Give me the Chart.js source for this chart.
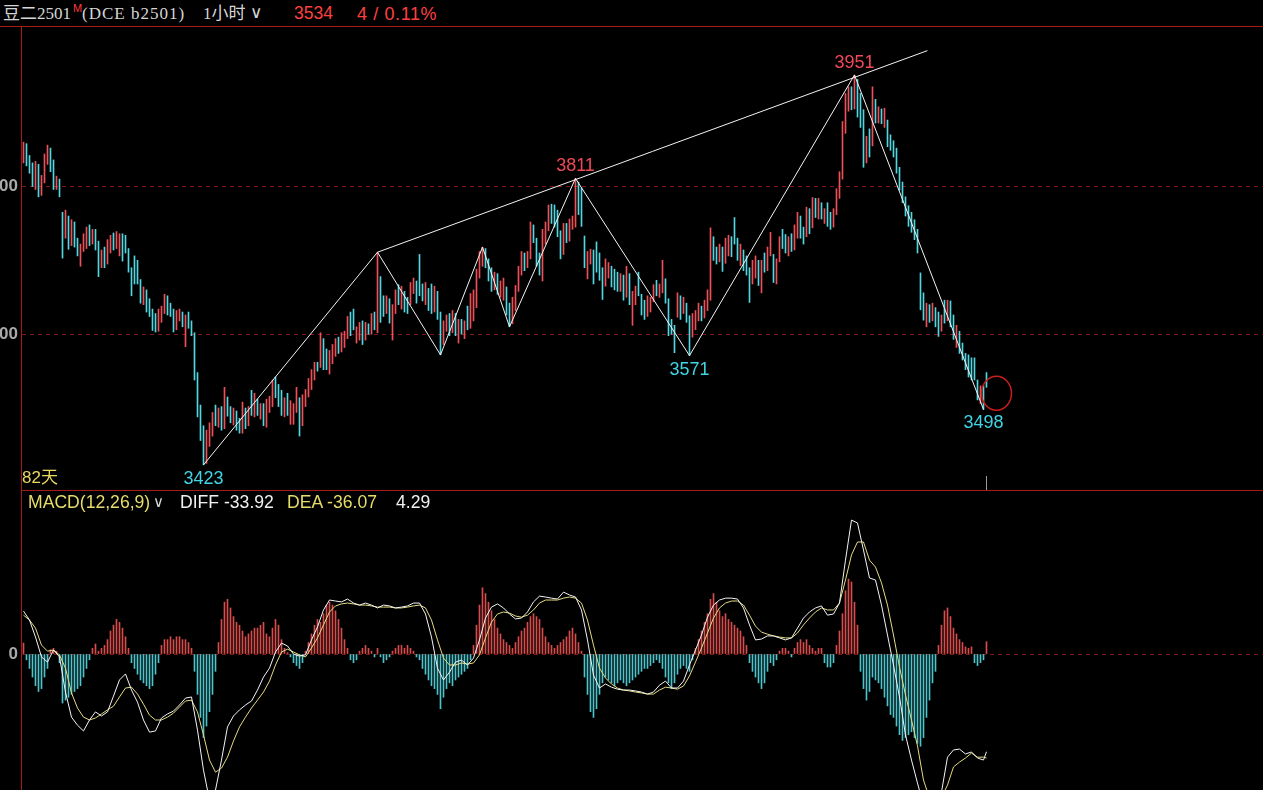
<!DOCTYPE html>
<html>
<head>
<meta charset="utf-8">
<script src="https://cdn.jsdelivr.net/npm/chart.js@4.4.0/dist/chart.umd.min.js"></script>
<style>
  html, body { margin: 0; padding: 0; background: #000; overflow: hidden; }
  body { width: 1263px; height: 790px; position: relative; font-family: "Liberation Sans", Arial, sans-serif; }
  .t { position: absolute; white-space: nowrap; line-height: 1; }
  .rl { position: absolute; background: #a81a1a; }
  canvas { position: absolute; left: 0; }
</style>
</head>
<body>
<canvas id="price" width="1263" height="463" style="top:27px"></canvas>
<canvas id="macd" width="1263" height="299" style="top:491px"></canvas>

<div class="rl" style="left:0;top:26px;width:1263px;height:1px"></div>
<div class="rl" style="left:21px;top:490px;width:1242px;height:1px"></div>
<div class="rl" style="left:21px;top:27px;width:1px;height:763px"></div>
<div style="position:absolute;left:986px;top:476px;width:1px;height:14px;background:#999"></div>

<div class="t" style="left:3px;top:5px;font-size:17px;font-family:'Liberation Serif','Noto Sans CJK SC',serif;color:#d6d6d6">豆二2501</div>
<div class="t" style="left:73px;top:3px;font-size:11px;color:#ff3a3a">M</div>
<div class="t" style="left:82px;top:5px;font-size:17px;font-family:'Liberation Serif',serif;letter-spacing:1px;color:#d6d6d6">(DCE b2501)</div>
<div class="t" style="left:203px;top:5px;font-size:17px;font-family:'Liberation Serif','Noto Sans CJK SC',serif;color:#d6d6d6">1小时</div>
<div class="t" style="left:250px;top:4px;font-size:17px;font-family:'DejaVu Sans',sans-serif;color:#d6d6d6">∨</div>
<div class="t" style="left:294px;top:5px;font-size:17.5px;color:#ff4040">3534</div>
<div class="t" style="left:357px;top:5px;font-size:18px;letter-spacing:0.6px;color:#ff4040">4 / 0.11%</div>

<div class="t" style="left:22px;top:469px;font-size:17px;font-family:'Liberation Sans','Noto Sans CJK SC',sans-serif;color:#e8d860">82天</div>

<div class="t" style="left:28px;top:494px;font-size:17.6px;color:#e6dc6a">MACD(12,26,9)</div>
<div class="t" style="left:153px;top:495px;font-size:15px;font-family:'DejaVu Sans',sans-serif;color:#d8d8d8">∨</div>
<div class="t" style="left:180px;top:494px;font-size:17.6px;color:#f0f0f0">DIFF -33.92</div>
<div class="t" style="left:287px;top:494px;font-size:17.6px;color:#e6dc6a">DEA -36.07</div>
<div class="t" style="left:396px;top:494px;font-size:17.6px;color:#f0f0f0">4.29</div>

<script>
// hourly bars, bean No.2 b2501
const opens = [3838,3856,3835,3826,3806,3826,3795,3810,3838,3848,3828,3800,3808,3762,3735,3758,3725,3748,3725,3698,
3718,3725,3742,3728,3738,3720,3692,3708,3696,3712,3732,3718,3712,3730,3730,3712,3688,3702,3686,3672,
3645,3658,3640,3630,3615,3608,3620,3630,3650,3636,3630,3610,3622,3628,3610,3626,3612,3600,3545,3496,
3462,3430,3455,3468,3495,3478,3498,3476,3512,3496,3484,3495,3480,3470,3498,3482,3508,3492,3508,3494,
3500,3482,3500,3510,3532,3520,3510,3494,3510,3492,3490,3500,3512,3478,3506,3520,3532,3546,3560,3560,
3592,3572,3556,3568,3575,3590,3580,3590,3598,3620,3628,3592,3600,3614,3596,3612,3602,3622,3605,3676,
3640,3628,3645,3618,3630,3660,3640,3655,3645,3640,3660,3668,3705,3665,3650,3660,3645,3635,3655,3628,
3590,3610,3620,3605,3625,3600,3615,3600,3630,3612,3632,3650,3680,3700,3712,3698,3686,3666,3680,3658,
3660,3662,3638,3618,3638,3660,3686,3704,3692,3705,3742,3728,3705,3680,3728,3745,3770,3760,3752,3738,
3712,3745,3730,3748,3750,3800,3792,3730,3695,3700,3710,3715,3690,3675,3668,3685,3690,3675,3668,3660,
3675,3652,3678,3640,3645,3672,3650,3640,3625,3635,3645,3665,3656,3660,3672,3645,3612,3605,3628,3648,
3630,3640,3622,3600,3610,3620,3635,3626,3635,3648,3728,3714,3700,3716,3700,3715,3728,3750,3728,3706,
3712,3698,3688,3670,3690,3696,3666,3700,3688,3708,3705,3678,3700,3730,3724,3712,3730,3716,3735,3755,
3740,3735,3762,3748,3774,3760,3772,3760,3770,3755,3748,3765,3790,3815,3875,3910,3930,3912,3942,3920,
3888,3835,3870,3858,3915,3892,3905,3890,3886,3866,3855,3845,3822,3800,3785,3768,3755,3745,3738,3680,
3645,3622,3638,3622,3634,3622,3605,3632,3620,3640,3615,3596,3600,3582,3570,3560,3548,3552,3538,3515,
3525,3545];
const highs = [3860,3858,3842,3832,3834,3830,3815,3844,3856,3852,3836,3814,3810,3765,3768,3760,3755,3752,3730,3722,
3736,3745,3748,3742,3742,3726,3714,3718,3728,3734,3737,3739,3736,3736,3734,3716,3690,3706,3700,3674,
3664,3660,3648,3634,3628,3634,3638,3654,3652,3642,3634,3632,3634,3630,3626,3630,3618,3602,3548,3504,
3476,3470,3480,3494,3504,3500,3502,3528,3515,3502,3500,3496,3486,3508,3500,3502,3524,3520,3512,3506,
3506,3512,3516,3538,3542,3532,3524,3514,3520,3510,3506,3528,3514,3518,3525,3540,3552,3562,3562,3602,
3594,3580,3578,3586,3594,3596,3602,3604,3624,3630,3634,3610,3616,3618,3616,3614,3628,3630,3711,3678,
3652,3652,3648,3640,3660,3667,3665,3658,3650,3670,3676,3672,3708,3668,3670,3662,3668,3665,3658,3630,
3618,3626,3628,3632,3628,3620,3620,3618,3638,3655,3660,3688,3712,3718,3716,3702,3690,3684,3682,3672,
3676,3664,3642,3650,3666,3692,3712,3710,3712,3752,3748,3730,3710,3742,3752,3775,3776,3775,3768,3740,
3750,3750,3756,3760,3811,3806,3798,3733,3712,3715,3714,3725,3710,3690,3702,3697,3692,3688,3684,3682,
3680,3692,3682,3658,3665,3684,3654,3646,3652,3650,3667,3673,3668,3700,3675,3648,3620,3612,3656,3652,
3650,3642,3625,3628,3632,3642,3638,3646,3660,3744,3732,3718,3722,3718,3730,3734,3732,3758,3730,3722,
3714,3706,3690,3700,3706,3700,3700,3710,3718,3738,3708,3702,3732,3742,3735,3732,3736,3748,3765,3760,
3745,3772,3770,3785,3784,3784,3778,3770,3778,3765,3770,3797,3820,3888,3926,3935,3935,3951,3945,3926,
3904,3868,3878,3935,3918,3908,3905,3906,3890,3870,3862,3852,3826,3806,3786,3774,3765,3755,3742,3683,
3656,3642,3640,3642,3636,3630,3626,3646,3646,3645,3626,3612,3604,3588,3574,3572,3568,3568,3538,3530,
3530,3548];
const lows = [3832,3828,3818,3800,3796,3786,3788,3805,3830,3820,3796,3796,3786,3703,3730,3715,3720,3718,3706,3692,
3712,3716,3720,3722,3714,3678,3690,3690,3695,3710,3714,3716,3706,3699,3710,3684,3652,3668,3668,3642,
3640,3630,3624,3605,3603,3604,3616,3628,3626,3624,3603,3606,3618,3610,3583,3608,3598,3538,3488,3456,
3423,3425,3448,3462,3476,3474,3470,3472,3489,3480,3477,3470,3466,3466,3472,3476,3490,3488,3490,3485,
3476,3474,3494,3502,3514,3502,3490,3488,3490,3478,3478,3494,3462,3476,3502,3515,3525,3538,3550,3555,
3552,3552,3546,3560,3570,3574,3576,3582,3594,3598,3606,3588,3592,3586,3592,3600,3600,3606,3602,3616,
3624,3628,3615,3592,3628,3640,3634,3630,3628,3640,3655,3642,3652,3645,3640,3632,3628,3630,3620,3572,
3586,3604,3598,3602,3598,3588,3600,3594,3606,3608,3618,3636,3676,3692,3690,3672,3658,3660,3654,3650,
3646,3626,3610,3614,3632,3658,3680,3686,3690,3702,3724,3692,3680,3672,3722,3740,3750,3745,3732,3702,
3708,3724,3726,3742,3745,3762,3746,3690,3675,3695,3668,3684,3673,3647,3665,3676,3664,3660,3658,3658,
3646,3650,3640,3612,3640,3652,3626,3620,3624,3630,3644,3652,3650,3656,3642,3598,3600,3575,3623,3620,
3628,3616,3571,3596,3606,3618,3618,3622,3632,3646,3700,3695,3698,3685,3696,3706,3705,3722,3700,3693,
3686,3680,3643,3668,3676,3666,3656,3684,3686,3706,3670,3668,3698,3716,3710,3706,3712,3714,3730,3730,
3722,3732,3736,3744,3758,3756,3756,3750,3746,3742,3745,3762,3784,3810,3872,3902,3904,3905,3894,3880,
3826,3832,3840,3855,3886,3886,3885,3880,3854,3849,3840,3818,3795,3778,3760,3746,3738,3728,3710,3633,
3619,3610,3616,3618,3610,3597,3604,3615,3618,3610,3593,3582,3574,3565,3552,3542,3538,3538,3511,3506,
3498,3528];
const closes = [3856,3835,3826,3806,3826,3795,3810,3838,3848,3828,3800,3810,3788,3708,3760,3725,3748,3725,3712,3718,
3730,3740,3728,3738,3720,3690,3708,3696,3720,3730,3720,3735,3730,3706,3712,3690,3656,3672,3676,3648,
3660,3638,3630,3612,3608,3625,3632,3648,3634,3628,3610,3626,3630,3614,3618,3612,3602,3545,3495,3462,
3432,3458,3470,3490,3480,3495,3478,3515,3495,3485,3496,3478,3470,3498,3482,3492,3492,3510,3496,3502,
3480,3505,3512,3530,3520,3508,3495,3508,3496,3498,3505,3520,3475,3508,3520,3536,3548,3560,3558,3595,
3570,3560,3570,3582,3590,3580,3596,3600,3618,3604,3612,3606,3612,3598,3612,3604,3622,3610,3700,3630,
3630,3645,3624,3632,3655,3645,3660,3640,3635,3665,3668,3650,3665,3652,3662,3645,3638,3655,3630,3585,
3612,3618,3605,3625,3610,3612,3605,3612,3612,3640,3655,3680,3700,3710,3698,3685,3668,3680,3662,3668,
3672,3635,3618,3640,3658,3685,3705,3692,3706,3740,3728,3705,3690,3732,3745,3768,3755,3750,3738,3712,
3740,3730,3750,3758,3800,3772,3760,3700,3708,3712,3685,3690,3676,3660,3690,3692,3672,3665,3662,3675,
3652,3680,3650,3650,3660,3655,3632,3625,3642,3648,3660,3655,3662,3690,3650,3610,3605,3585,3650,3625,
3640,3620,3585,3620,3625,3635,3625,3640,3655,3730,3712,3702,3718,3695,3722,3728,3710,3728,3710,3718,
3695,3688,3660,3692,3698,3678,3690,3688,3710,3730,3680,3696,3722,3720,3715,3726,3716,3740,3755,3738,
3728,3762,3745,3770,3762,3775,3760,3765,3752,3745,3765,3790,3815,3875,3910,3930,3915,3945,3908,3890,
3835,3860,3850,3925,3894,3905,3890,3900,3866,3855,3845,3825,3800,3785,3765,3752,3742,3735,3715,3645,
3630,3635,3625,3636,3620,3608,3620,3622,3640,3618,3600,3605,3580,3570,3558,3545,3540,3545,3520,3525,
3505,3534];

// MACD(12,26,9) histogram, one value per bar
const macdHist = [3.8,-2,-5,-8,-11,-13,-12,-8,-5,1.5,2,1,-3,-17,-16,-15,-14,-13,-12,-11,
-8,-5,-2,2,3.5,1,2,3,5,8,10,12,11,9,6,2,-3,-5,-7,-9,
-10,-11,-12,-11,-7,-3,3,5,5,6,5,6,6,5,5,4,2,-6,-14,-22,
-29,-25,-20,-14,-6,4,12,18,19,16,13,11,10,8,6,7,8,9,9,10,
11,7,6,9,12,10,5,2,0.5,-1,-3,-4,-5,-3,1,4,7,10,12,11,
14,17,18,17,15,12,9,5,2,-2,-3,-2,1,2,3,2,1,-1,2,-1,
-3,-2,-1,1,2,3,3,2,3,2,1,-1,-2,-5,-7,-9,-11,-12,-14,-19,
-15,-12,-10,-11,-9,-8,-7,-6,-5,-2,3,10,17,23,21,18,15,12,9,7,
5,4,3,2,4,6,8,9,11,13,14,13,12,9,6,4,3,2,3,4,
5,6,8,9,7,4,1,-8,-14,-20,-22,-19,-14,-10,-8,-9,-10,-11,-10,-9,
-10,-11,-10,-9,-8,-7,-6,-5,-5,-4,-3,-2,-3,-5,-8,-10,-12,-10,-7,-5,
-4,-5,-6,-2,2,5,8,11,14,19,21,18,15,13,14,12,11,10,9,8,
6,3,-3,-6,-8,-10,-12,-10,-6,-3,-4,-2,1,2,2,1,-1,2,4,5,
4,5,3,2,1,2,2,-3,-4.5,-4.5,-3,3,8,14,22,26,25,18,10,-6,
-12,-16,-13,-8,-9,-10,-12,-15,-18,-21,-22,-25,-28,-30,-29,-28,-27,-29,-31,-32,
-29,-22,-16,-10,-6,3,10,15,16,13,9,7,5,4,2.5,2,2.5,-3,-4,-3,
-2,4.29];

// DIFF / DEA read every second bar (last value = last bar)
const diffLine = [14.9,11.8,5.9,-1.0,-2.8,1.4,-1.0,-13.2,-21.9,-24.7,
-26.7,-22.9,-20.1,-21.5,-20.1,-14.6,-9.0,-6.9,-12.5,-16.7,
-22.9,-27.1,-26.7,-22.2,-20.8,-19.8,-17.7,-15.3,-14.9,-26.4,
-40.3,-50.7,-47.2,-36.8,-25.3,-21.5,-19.4,-17.7,-16.3,-12.5,
-8.0,-4.9,0.7,3.8,2.8,0,-0.7,-0.3,4.9,9.4,
15.3,18.75,18.4,18.1,19.1,17.7,17.0,17.7,17.0,16.0,
17.0,16.7,16.0,16.3,16.7,17.7,17.7,13.9,5.9,-4.9,
-9.0,-6.3,-2.8,-2.1,-3.8,-1.4,4.9,12.5,16.3,17.4,
16.0,13.9,12.2,12.5,14.6,18.1,20.1,19.8,19.4,19.1,
21.5,20.5,19.8,15.3,4.9,-7.3,-11.8,-10.4,-11.5,-12.2,
-12.5,-12.5,-12.8,-13.2,-13.9,-13.2,-10.8,-9.4,-11.8,-11.8,
-9.4,-3.8,1.4,6.6,12.8,17.0,18.75,19.4,19.4,19.1,
16.0,10.1,4.9,5.2,6.3,6.3,5.6,4.9,5.6,9.0,
12.5,14.6,16.0,16.7,13.5,13.9,17.7,32.6,46.5,45.5,
36.1,26.4,25.7,17.0,6.6,-3.8,-14.9,-28.1,-36.8,-44.8,
-52.4,-54.2,-52.4,-47.9,-35.8,-33.3,-33.0,-34.7,-34.0,-36.1,
-36.8,-33.92];
const deaLine = [13.5,11.8,9.0,3.1,1.0,1.4,-0.3,-4.9,-13.5,-18.75,
-21.9,-22.9,-22.2,-20.8,-19.4,-18.1,-14.9,-11.8,-11.5,-13.9,
-17.4,-21.2,-22.9,-22.9,-21.9,-20.5,-18.4,-16.3,-16.0,-20.1,
-28.1,-36.8,-41.0,-39.6,-35.8,-30.2,-25.3,-21.9,-18.75,-16.0,
-13.2,-9.4,-3.8,0.7,1.7,0.7,-0.3,-1.0,2.1,5.6,
10.1,14.6,16.7,17.4,17.7,17.4,17.0,17.0,16.7,16.3,
16.3,16.3,16.0,16.0,16.3,16.7,17.0,16.0,11.8,4.9,
-1.4,-3.8,-3.8,-3.1,-3.5,-3.1,-0.3,5.6,11.1,13.9,
14.6,14.2,13.2,12.8,13.5,15.3,17.7,18.75,18.75,18.75,
19.4,19.8,19.4,17.7,11.8,3.1,-4.9,-8.3,-10.4,-11.8,
-12.5,-12.8,-13.2,-13.5,-13.9,-13.9,-12.5,-11.5,-11.8,-12.2,
-11.1,-7.6,-2.8,2.1,7.3,12.5,16.0,17.7,18.4,18.4,
17.0,13.5,9.7,7.6,6.9,6.3,5.9,5.6,5.6,7.3,
10.1,12.5,14.6,16.0,15.3,15.3,17.7,25.7,34.4,38.9,
38.9,32.6,30.2,24.7,17.0,6.6,-4.5,-14.2,-22.9,-31.9,
-43.75,-50.0,-50.7,-49.7,-45.5,-39.2,-37.5,-36.1,-34.4,-35.8,
-35.8,-36.07];

// zigzag pivots (bar index) and the upper trend line
const pivotIdx = [60, 118, 139, 153, 162, 184, 222, 277, 320];
const trendIdx = [118, 301.3];
const trendPrice = [3711, 3984];
const labelIdx = [60, 184, 222, 277, 320];
const labelAbove = [false, true, false, true, false];

const RED = '#ee5058', CYAN = '#52d6e0';
const lastIdx = closes.length - 1;
const xMin = -0.5, xMax = 413.17;

Chart.defaults.font.family = '"Liberation Sans", Arial, sans-serif';
Chart.defaults.animation = false;

const pivotPrice = pivotIdx.map((i, k) => (k % 2 === 0 ? lows[i] : highs[i]));

const pivotLabels = {
  id: 'pivotLabels',
  afterDatasetsDraw(chart) {
    const { ctx, scales: { x, y } } = chart;
    ctx.save();
    ctx.font = '18px "Liberation Sans", Arial, sans-serif';
    ctx.textAlign = 'center';
    ctx.textBaseline = 'middle';
    labelIdx.forEach((i, k) => {
      const above = labelAbove[k];
      const v = above ? highs[i] : lows[i];
      ctx.fillStyle = above ? '#f04858' : '#40d4e4';
      ctx.fillText(String(v), x.getPixelForValue(i), y.getPixelForValue(v) + (above ? -12 : 14));
    });
    // red ring round the last bars
    ctx.strokeStyle = '#c81e1e';
    ctx.lineWidth = 1.5;
    ctx.beginPath();
    ctx.ellipse(x.getPixelForValue(lastIdx) + 10, y.getPixelForValue(3520), 15, 17, 0, 0, Math.PI * 2);
    ctx.stroke();
    ctx.restore();
  }
};

new Chart(document.getElementById('price'), {
  type: 'bar',
  data: {
    datasets: [
      {
        type: 'line',
        data: pivotIdx.map((i, k) => ({ x: i, y: pivotPrice[k] })),
        borderColor: '#f4f4f4', borderWidth: 1, pointRadius: 0, tension: 0, order: 0
      },
      {
        type: 'line',
        data: trendIdx.map((i, k) => ({ x: i, y: trendPrice[k] })),
        borderColor: '#f4f4f4', borderWidth: 1, pointRadius: 0, tension: 0, order: 0
      },
      {
        data: closes.map((c, i) => ({ x: i, y: [lows[i], highs[i]] })),
        backgroundColor: ctx => (closes[ctx.dataIndex] >= opens[ctx.dataIndex] ? RED : CYAN),
        barThickness: 1, grouped: false, borderWidth: 0, order: 1
      }
    ]
  },
  options: {
    responsive: false,
    devicePixelRatio: 1,
    plugins: { legend: { display: false }, tooltip: { enabled: false } },
    scales: {
      x: { type: 'linear', min: xMin, max: xMax, offset: false, display: false },
      y: {
        min: 3389, max: 4016,
        afterBuildTicks: s => { s.ticks = [{ value: 3600 }, { value: 3800 }]; },
        afterFit: s => { s.width = 22; s.paddingTop = 0; s.paddingBottom = 0; },
        grid: { color: '#7c1818', drawTicks: false },
        border: { display: false, dash: [4, 4] },
        ticks: { color: '#a9a9a9', padding: 4, font: { size: 17, weight: 'bold' } }
      }
    }
  },
  plugins: [pivotLabels]
});

const lineX = j => (j < diffLine.length - 1 ? j * 2 : lastIdx);

new Chart(document.getElementById('macd'), {
  type: 'bar',
  data: {
    datasets: [
      {
        type: 'line',
        data: diffLine.map((v, j) => ({ x: lineX(j), y: v })),
        borderColor: '#f4f4f4', borderWidth: 1, pointRadius: 0, tension: 0, order: 0
      },
      {
        type: 'line',
        data: deaLine.map((v, j) => ({ x: lineX(j), y: v })),
        borderColor: '#e4dc80', borderWidth: 1, pointRadius: 0, tension: 0, order: 1
      },
      {
        data: macdHist.map((v, i) => ({ x: i, y: v })),
        backgroundColor: ctx => (macdHist[ctx.dataIndex] >= 0 ? '#d84c4c' : '#4cc4cc'),
        barThickness: 1, grouped: false, borderWidth: 0, order: 2
      }
    ]
  },
  options: {
    responsive: false,
    devicePixelRatio: 1,
    plugins: { legend: { display: false }, tooltip: { enabled: false } },
    scales: {
      x: { type: 'linear', min: xMin, max: xMax, offset: false, display: false },
      y: {
        min: -47.2, max: 56.6,
        afterBuildTicks: s => { s.ticks = [{ value: 0 }]; },
        afterFit: s => { s.width = 22; s.paddingTop = 0; s.paddingBottom = 0; },
        grid: { color: '#7c1818', drawTicks: false },
        border: { display: false, dash: [4, 4] },
        ticks: { color: '#a9a9a9', padding: 4, font: { size: 17, weight: 'bold' } }
      }
    }
  }
});
</script>
</body>
</html>
